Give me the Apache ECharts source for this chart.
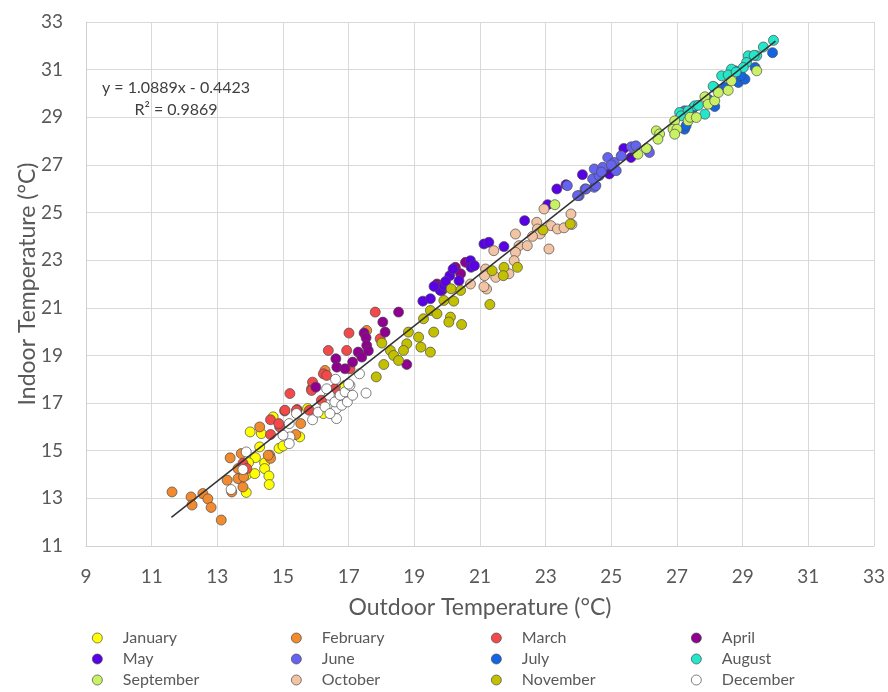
<!DOCTYPE html>
<html>
<head>
<meta charset="utf-8">
<script src="https://cdn.jsdelivr.net/npm/echarts@6/dist/echarts.min.js"></script>
<style>
  html, body { margin: 0; padding: 0; background: #fff; }
  #chart { width: 888px; height: 692px; }
</style>
</head>
<body>
<div id="chart"></div>
<script>
// monthly points: [outdoor, indoor] in °C
var jan = [[14.0,15.79],[14.34,15.72],[14.29,15.16],[14.16,14.71],[13.88,13.97],[14.14,14.04],[13.88,13.25],[14.44,14.49],[14.44,14.25],[14.57,13.94],[14.58,13.58],[14.88,15.1],[14.7,16.42],[15.51,15.58],[15.75,16.77],[16.23,16.56],[16.89,17.74],[13.95,14.5],[15.0,15.2]]
var feb = [[11.62,13.27],[12.2,13.06],[12.23,12.72],[12.56,13.2],[12.71,12.98],[12.81,12.62],[13.12,12.09],[13.39,14.7],[13.3,13.76],[13.44,13.27],[13.63,13.83],[13.63,14.25],[13.78,13.48],[13.8,13.9],[14.29,16.0],[14.6,14.81],[14.62,14.68],[15.54,16.14],[15.39,15.68],[13.73,14.88],[14.55,14.81],[16.28,18.37],[17.55,20.05]]
var mar = [[15.21,17.4],[14.62,16.3],[14.9,16.0],[14.62,15.68],[15.05,16.67],[15.43,16.73],[15.8,16.7],[16.17,17.12],[15.87,17.6],[13.78,14.47],[13.9,14.25],[17.81,20.82],[17.01,19.94],[16.38,19.21],[16.94,19.21],[16.23,18.23],[16.33,18.16],[15.9,17.88],[15.87,17.53],[15.06,16.7],[15.41,16.7],[14.87,16.14],[16.58,17.6],[17.04,18.44],[17.96,19.7]]
var apr = [[18.52,20.82],[18.04,20.4],[17.47,19.94],[17.53,19.74],[18.11,19.98],[17.55,19.42],[17.29,19.14],[17.4,18.93],[16.61,18.86],[16.64,18.51],[16.89,18.44],[17.12,18.72],[18.77,18.62],[16.0,17.67],[19.69,22.0],[19.84,21.73],[20.25,22.7],[20.41,22.43],[20.56,22.91],[19.75,21.9],[17.6,19.2]]
var may = [[19.26,21.28],[19.49,21.38],[19.79,21.73],[19.9,21.94],[20.08,22.35],[20.36,22.14],[20.18,22.63],[20.71,22.98],[20.73,22.7],[20.83,22.77],[21.12,23.68],[21.27,23.75],[21.73,23.57],[22.36,24.66],[23.06,25.33],[23.34,25.99],[23.62,26.17],[24.12,26.59],[25.38,27.69],[25.6,27.31],[24.94,26.62],[19.95,22.1],[19.6,21.9]]
var jun = [[23.66,26.13],[24.02,25.71],[24.2,25.99],[24.48,26.06],[23.97,25.71],[24.23,25.99],[24.53,26.13],[24.43,26.41],[24.63,26.55],[24.48,26.83],[24.74,26.9],[24.89,27.31],[25.09,27.1],[25.15,26.76],[25.3,27.38],[25.61,27.76],[25.75,27.8],[26.11,27.66],[26.16,27.52],[27.23,29.27],[24.7,26.7],[25.0,27.0]]
var jul = [[27.23,28.5],[27.28,28.65],[28.15,29.45],[28.46,30.25],[28.87,30.46],[29.07,30.6],[28.76,30.95],[29.38,31.09],[29.91,31.71],[27.95,29.76],[28.95,30.75],[27.5,29.4]]
var aug = [[29.94,32.23],[29.63,31.95],[29.43,31.58],[29.17,31.58],[29.35,31.6],[29.12,31.3],[29.02,31.09],[28.66,31.02],[28.36,30.74],[28.56,30.78],[28.15,30.25],[28.1,30.3],[27.54,29.48],[27.65,29.5],[27.08,29.2],[27.13,29.06],[27.34,29.27],[27.85,29.13],[28.8,30.9]]
var sep = [[26.37,28.43],[26.47,28.3],[26.42,28.08],[26.93,28.85],[26.88,28.5],[27.0,28.5],[26.93,28.29],[27.34,28.85],[27.4,29.0],[27.59,28.99],[27.85,29.86],[27.95,29.55],[28.15,29.69],[28.26,30.04],[28.56,30.13],[28.66,30.53],[29.43,30.95],[26.07,27.69],[25.81,27.45],[23.28,25.33]]
var oct = [[22.95,25.15],[22.73,24.59],[23.77,24.94],[23.16,24.45],[23.36,24.31],[23.56,24.36],[22.75,24.31],[23.1,23.47],[22.83,24.1],[22.08,24.1],[22.19,23.61],[22.44,23.61],[22.08,23.33],[22.04,22.98],[21.88,22.43],[21.48,22.28],[21.17,22.63],[21.14,22.35],[21.2,21.79],[21.42,23.4],[20.71,22.0],[21.12,21.89],[23.8,24.5],[22.6,24.0]]
var nov = [[23.75,24.52],[22.92,24.27],[21.73,22.7],[22.14,22.7],[21.37,22.56],[21.71,22.35],[21.3,21.14],[20.41,21.73],[20.12,21.8],[19.9,21.31],[20.2,21.28],[19.49,20.89],[19.69,20.75],[19.28,20.54],[19.59,19.98],[20.1,20.61],[20.05,20.4],[20.44,20.3],[18.82,19.98],[19.13,19.77],[18.77,19.49],[19.2,19.35],[19.49,19.14],[18.67,19.21],[18.27,19.21],[18.37,19.0],[18.01,19.52],[18.52,18.79],[17.84,18.1],[18.07,18.62]]
var dec = [[15.9,16.3],[16.07,16.62],[16.28,16.84],[16.41,17.33],[16.33,17.6],[16.63,16.77],[16.58,17.05],[16.74,17.33],[16.79,16.91],[16.89,17.47],[16.96,17.05],[17.04,17.74],[17.12,17.33],[17.53,17.42],[16.63,16.35],[16.43,16.56],[17.33,18.23],[15.21,15.58],[15.0,15.65],[15.19,15.3],[15.41,16.56],[15.19,16.14],[13.88,14.95],[13.78,14.21],[13.42,13.37],[16.6,18.0],[17.0,17.8]]

// trend line ends
var trend = [[11.6, 12.2], [30.0, 32.2]]

var monthNames = ['January','February','March','April','May','June','July','August','September','October','November','December']
var monthData = [jan, feb, mar, apr, may, jun, jul, aug, sep, oct, nov, dec]
var monthColors = ['#ffff00','#f28a30','#f24a4a','#900090','#5a00e6','#6464f0','#1464e6','#24e6c8','#c8f264','#f2c4a4','#c2c000','#ffffff']

var font = "Lato, 'Open Sans', sans-serif"
var grey = '#595959'

var series = []
monthNames.forEach(function (name, i) {
  series.push({
    name: name,
    type: 'scatter',
    data: monthData[i],
    symbolSize: 10,
    itemStyle: {
      color: monthColors[i],
      borderColor: '#4a4a4a',
      borderWidth: 0.7,
      opacity: 1
    },
    z: 3
  })
})
series.push({
  type: 'line',
  data: trend,
  symbol: 'none',
  lineStyle: { color: '#333', width: 1.5 },
  z: 4,
  silent: true
})

// one legend per item so the 4x3 grid lines up like the original
var legends = []
var colX = [92, 291, 491, 691]
var rowY = [630, 651, 672]
monthNames.forEach(function (name, i) {
  legends.push({
    orient: 'horizontal',
    left: colX[i % 4],
    top: rowY[Math.floor(i / 4)],
    padding: 0,
    itemWidth: 11,
    itemHeight: 10,
    icon: 'circle',
    data: [name],
    textStyle: { color: grey, fontSize: 16, fontFamily: font, padding: [0, 0, 0, 15] },
    itemStyle: { borderColor: '#4a4a4a', borderWidth: 0.7 }
  })
})

var myChart = echarts.init(document.getElementById('chart'))
myChart.setOption({
  backgroundColor: '#fff',
  animation: false,
  textStyle: { fontFamily: font },
  grid: { left: 86, right: 13, top: 22, bottom: 146 },
  legend: legends,
  xAxis: {
    type: 'value',
    min: 9,
    max: 33,
    interval: 2,
    name: 'Outdoor Temperature (°C)',
    nameLocation: 'middle',
    nameGap: 50,
    nameTextStyle: { color: grey, fontSize: 23, fontFamily: font },
    axisLine: { show: true, lineStyle: { color: '#d0d0d0' } },
    axisTick: { show: false },
    axisLabel: { color: grey, fontSize: 19, margin: 21, fontFamily: font },
    splitLine: { lineStyle: { color: '#d9d9d9', width: 1 } }
  },
  yAxis: {
    type: 'value',
    min: 11,
    max: 33,
    interval: 2,
    name: 'Indoor Temperature (°C)',
    nameLocation: 'middle',
    nameGap: 47,
    nameMoveOverlap: false,
    nameTextStyle: { color: grey, fontSize: 23, fontFamily: font },
    axisLine: { show: true, lineStyle: { color: '#d0d0d0' } },
    axisTick: { show: false },
    axisLabel: { color: grey, fontSize: 19, margin: 23, fontFamily: font },
    splitLine: { lineStyle: { color: '#d9d9d9', width: 1 } }
  },
  graphic: [
    {
      type: 'text',
      x: 176,
      y: 99,
      style: {
        text: 'y = 1.0889x - 0.4423\nR² = 0.9869',
        fill: '#404040',
        font: '16px ' + font,
        align: 'center',
        verticalAlign: 'middle',
        lineHeight: 22
      },
      z: 10
    }
  ],
  series: series
})
window.addEventListener('resize', function () {
  myChart.resize()
})
</script>
</body>
</html>
